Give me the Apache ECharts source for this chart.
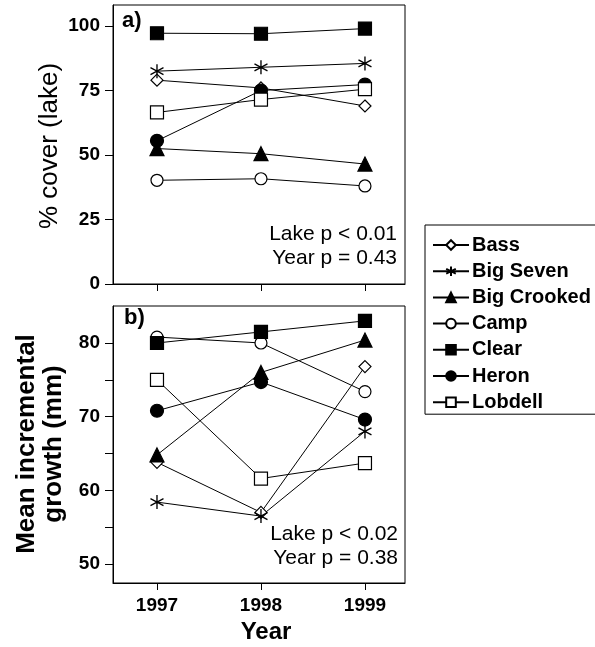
<!DOCTYPE html>
<html>
<head>
<meta charset="utf-8">
<script src="https://cdn.jsdelivr.net/npm/echarts@6/dist/echarts.min.js"></script>
<style>
  html, body { margin: 0; padding: 0; background: #fff; }
  #main { width: 595px; height: 647px; }
</style>
</head>
<body>
<div id="main"></div>
<script>
(function () {
    // years sampled
    var years = [1997, 1998, 1999];
    var lakes = ['Bass', 'Big Seven', 'Big Crooked', 'Camp', 'Clear', 'Heron', 'Lobdell'];

    // a) % cover per lake
    var coverBass = [79, 76, 69];
    var coverBigSeven = [82.5, 84, 85.5];
    var coverBigCrooked = [52.5, 50.5, 46.5];
    var coverCamp = [40.2, 40.8, 38];
    var coverClear = [97.2, 97, 99];
    var coverHeron = [55.5, 75, 77.3];
    var coverLobdell = [66.5, 71.5, 75.5];

    // b) mean incremental growth (mm)
    var growthBass = [63.8, 57, 76.8];
    var growthBigSeven = [58.4, 56.5, 68];
    var growthBigCrooked = [64.8, 76, 80.4];
    var growthCamp = [80.8, 80, 73.4];
    var growthClear = [80, 81.5, 83];
    var growthHeron = [70.8, 74.7, 69.6];
    var growthLobdell = [75, 61.6, 63.7];

    // tick labels
    var coverTicks = [0, 25, 50, 75, 100];
    var growthTicks = [50, 60, 70, 80];
    var growthMinorTicks = [50, 55, 60, 65, 70, 75, 80];

    var coverData = [coverBass, coverBigSeven, coverBigCrooked, coverCamp, coverClear, coverHeron, coverLobdell];
    var growthData = [growthBass, growthBigSeven, growthBigCrooked, growthCamp, growthClear, growthHeron, growthLobdell];

    var FONT = '"Liberation Sans", Arial, Helvetica, sans-serif';
    var starPath = 'path://M0,0L0,20M-8.66,5L8.66,15M-8.66,15L8.66,5';

    // marker look per lake
    var markers = [
        { symbol: 'diamond', size: 12, fill: '#fff' },
        { symbol: starPath, size: [13, 14], fill: '#000' },
        { symbol: 'triangle', size: 14, fill: '#000' },
        { symbol: 'circle', size: 12, fill: '#fff' },
        { symbol: 'rect', size: 13, fill: '#000' },
        { symbol: 'circle', size: 13, fill: '#000' },
        { symbol: 'rect', size: 13, fill: '#fff' }
    ];

    var toPairs = function (vals) {
        return vals.map(function (v, i) { return [years[i], v]; });
    };

    var series = [];
    [coverData, growthData].forEach(function (set, gi) {
        set.forEach(function (vals, i) {
            var m = markers[i];
            series.push({
                name: lakes[i],
                type: 'line',
                xAxisIndex: gi,
                yAxisIndex: gi,
                data: toPairs(vals),
                symbol: m.symbol,
                symbolSize: m.size,
                showAllSymbol: true,
                lineStyle: { color: '#000', width: 1 },
                itemStyle: { color: m.fill, borderColor: '#000', borderWidth: i === 1 ? 1.4 : 1.2 },
                emphasis: { disabled: true },
                animation: false
            });
        });
    });

    var xBase = {
        type: 'value',
        min: 1996.577,
        max: 1999.385,
        axisLine: { lineStyle: { color: '#000', width: 1 } },
        axisTick: { show: true, length: 7, customValues: years, lineStyle: { color: '#000' } },
        splitLine: { show: false }
    };

    var yBase = {
        type: 'value',
        axisLine: { show: true, lineStyle: { color: '#000', width: 1 } },
        splitLine: { show: false }
    };

    var chart = echarts.init(document.getElementById('main'), null, { renderer: 'canvas' });
    chart.setOption({
        backgroundColor: '#fff',
        animation: false,
        grid: [
            { left: 113, top: 5, width: 292, height: 279, show: true, borderColor: '#000', borderWidth: 1 },
            { left: 113, top: 306, width: 292, height: 277, show: true, borderColor: '#000', borderWidth: 1 }
        ],
        xAxis: [
            Object.assign({}, xBase, { gridIndex: 0, axisLabel: { show: false } }),
            Object.assign({}, xBase, {
                gridIndex: 1,
                axisLabel: {
                    customValues: years, margin: 13,
                    formatter: function (v) { return String(Math.round(v)); },
                    fontFamily: FONT, fontSize: 19, fontWeight: 'bold', color: '#000'
                }
            })
        ],
        yAxis: [
            Object.assign({}, yBase, {
                gridIndex: 0, min: 0, max: 108.14,
                axisTick: { show: true, length: 8, customValues: coverTicks, lineStyle: { color: '#000' } },
                axisLabel: {
                    customValues: coverTicks, margin: 13,
                    fontFamily: FONT, fontSize: 19, fontWeight: 'bold', color: '#000'
                }
            }),
            Object.assign({}, yBase, {
                gridIndex: 1, min: 47.42, max: 85.02,
                axisTick: { show: true, length: 8, customValues: growthMinorTicks, lineStyle: { color: '#000' } },
                axisLabel: {
                    customValues: growthTicks, margin: 13,
                    fontFamily: FONT, fontSize: 19, fontWeight: 'bold', color: '#000'
                }
            })
        ],
        legend: {
            data: lakes,
            orient: 'vertical',
            left: 425,
            top: 225,
            padding: [10, 6, 2, 7],
            itemGap: 6.2,
            itemWidth: 36,
            itemHeight: 12,
            borderColor: '#000',
            borderWidth: 1,
            selectedMode: false,
            textStyle: { fontFamily: FONT, fontSize: 20, fontWeight: 'bold', color: '#000', lineHeight: 20, padding: [0, 0, 0, -2] }
        },
        graphic: [
            { type: 'text', left: 122, top: 10, style: { text: 'a)', font: 'bold 22px ' + FONT, fill: '#000' } },
            { type: 'text', left: 124, top: 307, style: { text: 'b)', font: 'bold 22px ' + FONT, fill: '#000' } },
            {
                type: 'text', x: 397, y: 222.5,
                style: { text: 'Lake p < 0.01\nYear p = 0.43', font: '21px ' + FONT, lineHeight: 24, align: 'right', verticalAlign: 'top', fill: '#000' }
            },
            {
                type: 'text', x: 398, y: 522.5,
                style: { text: 'Lake p < 0.02\nYear p = 0.38', font: '21px ' + FONT, lineHeight: 24, align: 'right', verticalAlign: 'top', fill: '#000' }
            },
            {
                type: 'text', x: 50, y: 146, rotation: Math.PI / 2,
                style: { text: '% cover (lake)', font: '26px ' + FONT, align: 'center', verticalAlign: 'middle', fill: '#000' }
            },
            {
                type: 'text', x: 40, y: 444, rotation: Math.PI / 2,
                style: { text: 'Mean incremental\ngrowth (mm)', font: 'bold 26px ' + FONT, lineHeight: 27, align: 'center', verticalAlign: 'middle', fill: '#000' }
            },
            {
                type: 'text', x: 266, y: 620,
                style: { text: 'Year', font: 'bold 24px ' + FONT, lineHeight: 24, align: 'center', verticalAlign: 'top', fill: '#000' }
            }
        ],
        series: series
    });
})();
</script>
</body>
</html>
